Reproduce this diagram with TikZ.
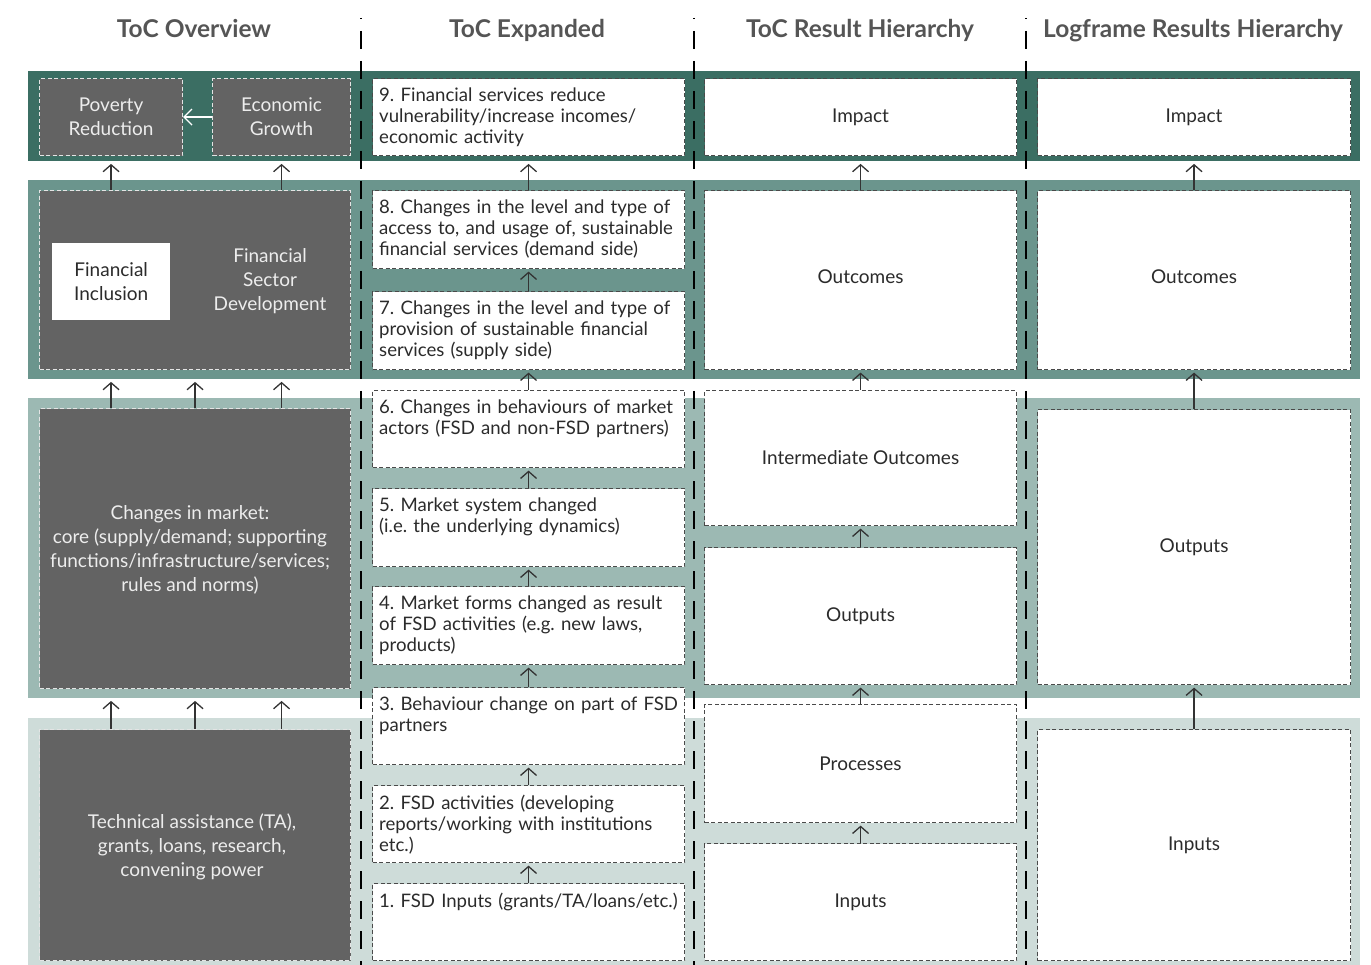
\documentclass[tikz,border=0pt]{standalone}
\usepackage{fontspec}
\setmainfont{Lato}
\usetikzlibrary{arrows.meta,calc}
\frenchspacing

\definecolor{bandA}{HTML}{3B6E63}
\definecolor{bandB}{HTML}{6B958D}
\definecolor{bandC}{HTML}{9CB9B3}
\definecolor{bandD}{HTML}{CEDCD9}
\definecolor{boxgray}{HTML}{636363}
\definecolor{gedge}{HTML}{E4E4E4}
\definecolor{boxedge}{HTML}{4A4A4A}
\definecolor{headcol}{HTML}{555555}
\definecolor{txtcol}{HTML}{2B2B2B}
\definecolor{lighttxt}{HTML}{EDEDED}
\definecolor{arrcol}{HTML}{333333}

\tikzset{
  band/.style={draw=none, inner sep=0pt, anchor=north west, minimum width=1332pt},
  wbox/.style={draw=boxedge, fill=white, dash pattern=on 4pt off 2.5pt, line width=1.1pt,
               inner sep=0pt, anchor=north west, text=txtcol,
               font=\fontsize{19}{23}\selectfont, align=center},
  gbox/.style={draw=gedge, fill=boxgray, dash pattern=on 4pt off 2.5pt, line width=1.1pt,
               inner sep=0pt, anchor=north west, text=lighttxt,
               font=\fontsize{19}{24}\selectfont, align=center},
  ltext/.style={text=lighttxt, font=\fontsize{19}{24}\selectfont, align=center, inner sep=0pt},
  etext/.style={text=txtcol, font=\fontsize{18.6}{21}\selectfont, align=left,
                text width=310pt, inner sep=0pt, anchor=north west},
  header/.style={text=headcol, font=\fontsize{24.5}{28}\selectfont\bfseries, anchor=base, inner sep=0pt},
  arr/.style={draw=arrcol, line width=1.3pt, -{Straight Barb[length=7pt,width=16pt]}, shorten >=2.5pt},
  warr/.style={draw=white, line width=1.3pt, -{Straight Barb[length=8pt,width=16pt]}},
  vline/.style={draw=black, line width=2.6pt, dash pattern=on 18pt off 12pt, dash phase=17pt},
  colw/.style={minimum width=312pt},
}

\begin{document}
\begin{tikzpicture}[x=1pt,y=-1pt]
\useasboundingbox (0,0) rectangle (1371,965);

% column headings
\node[header] (h1) at (194,38) {ToC Overview};
\node[header] (h2) at (527,38) {ToC Expanded};
\node[header] (h3) at (860,38) {ToC Result Hierarchy};
\node[header] (h4) at (1193,38) {Logframe Results Hierarchy};

% horizontal level bands
\node[band, fill=bandA, minimum height=90pt]  (b1) at (28,71) {};
\node[band, fill=bandB, minimum height=199pt] (b2) at (28,180) {};
\node[band, fill=bandC, minimum height=300pt] (b3) at (28,398) {};
\node[band, fill=bandD, minimum height=247pt] (b4) at (28,718) {};

% ToC overview
\node[gbox, minimum width=143pt, minimum height=77pt] (pr) at (39,78) {Poverty\\Reduction};
\node[gbox, minimum width=138pt, minimum height=77pt] (eg) at (212,78) {Economic\\Growth};
\node[gbox, minimum width=311pt, minimum height=179pt] (fsd) at (39,190) {};
\node[fill=white, inner sep=0pt, anchor=north west, minimum width=118pt, minimum height=77pt,
      text=txtcol, font=\fontsize{19}{24}\selectfont, align=center] (fi) at (52,243) {Financial\\Inclusion};
\node[ltext] (fsdt) at (270,281) {Financial\\Sector\\Development};
\node[gbox, minimum width=311pt, minimum height=280pt] (mkt) at (39,408) {};
\node[ltext] (mktt) at (190,550) {Changes in market:\\core (supply/demand; supporting\\functions/infrastructure/services;\\rules and norms)};
\node[gbox, minimum width=311pt, minimum height=231pt] (ta) at (39,729) {};
\node[ltext] (tat) at (192,847) {Technical assistance (TA),\\grants, loans, research,\\convening power};

% ToC expanded
\node[wbox, colw, minimum height=77pt] (e9) at (372,78) {};
\node[wbox, colw, minimum height=78pt] (e8) at (372,190) {};
\node[wbox, colw, minimum height=78pt] (e7) at (372,291) {};
\node[wbox, colw, minimum height=77pt] (e6) at (372,390) {};
\node[wbox, colw, minimum height=78pt] (e5) at (372,488) {};
\node[wbox, colw, minimum height=78pt] (e4) at (372,586) {};
\node[wbox, colw, minimum height=77pt] (e3) at (372,687) {};
\node[wbox, colw, minimum height=77pt] (e2) at (372,785) {};
\node[wbox, colw, minimum height=77pt] (e1) at (372,883) {};

\node[etext] (t9) at ($(e9.north west)+(7,10)$) {9. Financial services reduce\\vulnerability/increase incomes/\\economic activity};
\node[etext] (t8) at ($(e8.north west)+(7,10)$) {8. Changes in the level and type of\\access to, and usage of, sustainable\\financial services (demand side)};
\node[etext] (t7) at ($(e7.north west)+(7,10)$) {7. Changes in the level and type of\\provision of sustainable financial\\services (supply side)};
\node[etext] (t6) at ($(e6.north west)+(7,10)$) {6. Changes in behaviours of market\\actors (FSD and non-FSD partners)};
\node[etext] (t5) at ($(e5.north west)+(7,10)$) {5. Market system changed\\(i.e. the underlying dynamics)};
\node[etext] (t4) at ($(e4.north west)+(7,10)$) {4. Market forms changed as result\\of FSD activities (e.g. new laws,\\products)};
\node[etext] (t3) at ($(e3.north west)+(7,10)$) {3. Behaviour change on part of FSD\\partners};
\node[etext] (t2) at ($(e2.north west)+(7,10)$) {2. FSD activities (developing\\reports/working with institutions\\etc.)};
\node[etext] (t1) at ($(e1.north west)+(7,10)$) {1. FSD Inputs (grants/TA/loans/etc.)};

% ToC result hierarchy
\node[wbox, colw, minimum height=77pt]  (r6) at (704,78)  {Impact};
\node[wbox, colw, minimum height=179pt] (r5) at (704,190) {\raisebox{7pt}{Outcomes}};
\node[wbox, colw, minimum height=135pt] (r4) at (704,390) {Intermediate Outcomes};
\node[wbox, colw, minimum height=137pt] (r3) at (704,547) {Outputs};
\node[wbox, colw, minimum height=118pt] (r2) at (704,704) {Processes};
\node[wbox, colw, minimum height=117pt] (r1) at (704,843) {Inputs};

% logframe results hierarchy
\node[wbox, minimum width=313pt, minimum height=77pt]  (l4) at (1037,78)  {Impact};
\node[wbox, minimum width=313pt, minimum height=179pt] (l3) at (1037,190) {\raisebox{7pt}{Outcomes}};
\node[wbox, minimum width=313pt, minimum height=275pt] (l2) at (1037,409) {Outputs};
\node[wbox, minimum width=313pt, minimum height=231pt] (l1) at (1037,729) {Inputs};

% overview connectors
\draw[warr] (eg.west) -- (pr.east);
\draw[arr] (fsd.north -| pr.south) -- (b1.south -| pr.south);
\draw[arr] (fsd.north -| eg.south) -- (b1.south -| eg.south);
\foreach \src/\dst in {mkt/b2, ta/b3}{
  \draw[arr] (\src.north -| pr.south) -- (\dst.south -| pr.south);
  \draw[arr] (\src.north) -- (\dst.south -| \src.north);
  \draw[arr] (\src.north -| eg.south) -- (\dst.south -| eg.south);
}

% expanded chain
\draw[arr] (e8.north) -- (b1.south -| e8.north);
\foreach \src/\dst in {e7/e8, e6/e7, e5/e6, e4/e5, e3/e4, e2/e3, e1/e2}{
  \draw[arr] (\src.north) -- (\dst.south);
}

% result hierarchy chain
\draw[arr] (r5.north) -- (b1.south -| r5.north);
\foreach \src/\dst in {r4/r5, r3/r4, r2/r3, r1/r2}{
  \draw[arr] (\src.north) -- (\dst.south);
}

% logframe chain
\draw[arr] (l3.north) -- (b1.south -| l3.north);
\foreach \src/\dst in {l2/l3, l1/l2}{
  \draw[arr] (\src.north) -- (\dst.south);
}

% column separators
\coordinate (s1t) at (361,18);  \coordinate (s1b) at (361,965);
\coordinate (s2t) at (694,18);  \coordinate (s2b) at (694,965);
\coordinate (s3t) at (1026,18); \coordinate (s3b) at (1026,965);
\draw[vline] (s1t) -- (s1b);
\draw[vline] (s2t) -- (s2b);
\draw[vline] (s3t) -- (s3b);
\end{tikzpicture}
\end{document}
